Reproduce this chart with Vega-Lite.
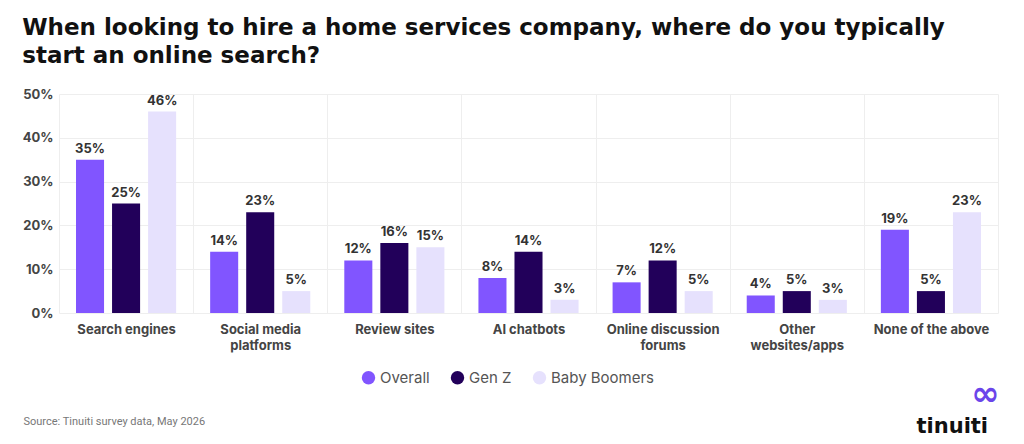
{
  "$schema": "https://vega.github.io/schema/vega-lite/v6.json",
  "width": 939,
  "height": 219,
  "padding": {"left": 22, "top": 17, "right": 0, "bottom": 0},
  "background": "#ffffff",
  "title": {
    "text": ["When looking to hire a home services company, where do you typically", "start an online search?"],
    "anchor": "start",
    "frame": "bounds",
    "font": "DejaVu Sans",
    "fontSize": 23,
    "fontWeight": 700,
    "color": "#111111",
    "lineHeight": 28,
    "offset": 20
  },
  "data": {
    "values": [
      {"category": "Search engines", "group": "Overall", "share": 0.35},
      {"category": "Search engines", "group": "Gen Z", "share": 0.25},
      {"category": "Search engines", "group": "Baby Boomers", "share": 0.46},
      {"category": "Social media platforms", "group": "Overall", "share": 0.14},
      {"category": "Social media platforms", "group": "Gen Z", "share": 0.23},
      {"category": "Social media platforms", "group": "Baby Boomers", "share": 0.05},
      {"category": "Review sites", "group": "Overall", "share": 0.12},
      {"category": "Review sites", "group": "Gen Z", "share": 0.16},
      {"category": "Review sites", "group": "Baby Boomers", "share": 0.15},
      {"category": "AI chatbots", "group": "Overall", "share": 0.08},
      {"category": "AI chatbots", "group": "Gen Z", "share": 0.14},
      {"category": "AI chatbots", "group": "Baby Boomers", "share": 0.03},
      {"category": "Online discussion forums", "group": "Overall", "share": 0.07},
      {"category": "Online discussion forums", "group": "Gen Z", "share": 0.12},
      {"category": "Online discussion forums", "group": "Baby Boomers", "share": 0.05},
      {"category": "Other websites/apps", "group": "Overall", "share": 0.04},
      {"category": "Other websites/apps", "group": "Gen Z", "share": 0.05},
      {"category": "Other websites/apps", "group": "Baby Boomers", "share": 0.03},
      {"category": "None of the above", "group": "Overall", "share": 0.19},
      {"category": "None of the above", "group": "Gen Z", "share": 0.05},
      {"category": "None of the above", "group": "Baby Boomers", "share": 0.23}
    ]
  },
  "config": {
    "view": {"stroke": null},
    "axis": {"gridColor": "#eeeeee", "gridWidth": 1}
  },
  "layer": [
    {
      "mark": {"type": "bar"},
      "encoding": {
        "x": {
          "field": "category",
          "type": "nominal",
          "sort": null,
          "scale": {"paddingInner": 0, "paddingOuter": 0},
          "axis": {
            "orient": "bottom",
            "tickBand": "extent",
            "grid": true,
            "ticks": false,
            "domain": false,
            "labelAngle": 0,
            "labelFont": "Inter",
            "labelFontSize": 13,
            "labelFontWeight": 700,
            "labelColor": "#444444",
            "labelPadding": 10,
            "labelLineHeight": 16,
            "labelExpr": "datum.label == 'Social media platforms' ? ['Social media', 'platforms'] : datum.label == 'Online discussion forums' ? ['Online discussion', 'forums'] : datum.label == 'Other websites/apps' ? ['Other', 'websites/apps'] : datum.label",
            "title": "Source: Tinuiti survey data, May 2026",
            "titleFont": "Roboto",
            "titleFontSize": 11,
            "titleFontWeight": 400,
            "titleColor": "#777777",
            "titleAnchor": "start",
            "titleAlign": "left",
            "titleBaseline": "middle",
            "titleX": -36,
            "titleY": 108
          }
        },
        "xOffset": {
          "field": "group",
          "type": "nominal",
          "sort": ["Overall", "Gen Z", "Baby Boomers"],
          "scale": {"paddingInner": 0.222, "paddingOuter": 0.472}
        },
        "y": {
          "field": "share",
          "type": "quantitative",
          "scale": {"domain": [0, 0.5]},
          "axis": {
            "orient": "left",
            "values": [0, 0.1, 0.2, 0.3, 0.4, 0.5],
            "format": ".0%",
            "grid": true,
            "ticks": false,
            "domain": false,
            "labelFont": "Inter",
            "labelFontSize": 13,
            "labelFontWeight": 700,
            "labelColor": "#444444",
            "labelPadding": 6,
            "minExtent": 36,
            "maxExtent": 36,
            "title": null
          }
        },
        "color": {
          "field": "group",
          "type": "nominal",
          "scale": {
            "domain": ["Overall", "Gen Z", "Baby Boomers"],
            "range": ["#8155ff", "#22005a", "#e6e1fd"]
          },
          "legend": {
            "orient": "none",
            "direction": "horizontal",
            "legendX": 302,
            "legendY": 276,
            "title": null,
            "padding": 0,
            "symbolType": "circle",
            "symbolSize": 180,
            "symbolStrokeWidth": 0,
            "labelFont": "Inter",
            "labelFontSize": 15,
            "labelColor": "#555555",
            "labelOffset": 4,
            "columnPadding": 20
          }
        }
      }
    },
    {
      "mark": {
        "type": "text",
        "font": "Inter",
        "fontSize": 13,
        "fontWeight": 700,
        "color": "#333333",
        "baseline": "alphabetic",
        "dy": -7
      },
      "encoding": {
        "x": {
          "field": "category",
          "type": "nominal",
          "sort": null,
          "axis": {
            "orient": "top",
            "labels": false,
            "ticks": false,
            "domain": false,
            "grid": false,
            "title": "∞",
            "titleFont": "DejaVu Sans",
            "titleFontSize": 34,
            "titleFontWeight": 700,
            "titleColor": "#6b45ea",
            "titleAlign": "center",
            "titleBaseline": "middle",
            "titleX": 926,
            "titleY": 300
          }
        },
        "xOffset": {"field": "group", "type": "nominal", "sort": ["Overall", "Gen Z", "Baby Boomers"]},
        "y": {
          "field": "share",
          "type": "quantitative",
          "axis": {
            "orient": "right",
            "labels": false,
            "ticks": false,
            "domain": false,
            "grid": false,
            "title": "tinuiti",
            "titleFont": "DejaVu Sans",
            "titleFontSize": 21,
            "titleFontWeight": 700,
            "titleColor": "#111111",
            "titleAngle": 0,
            "titleAlign": "left",
            "titleBaseline": "alphabetic",
            "titleX": -82,
            "titleY": 338
          }
        },
        "text": {"field": "share", "type": "quantitative", "format": ".0%"}
      }
    }
  ],
  "resolve": {"axis": {"x": "independent", "y": "independent"}}
}
